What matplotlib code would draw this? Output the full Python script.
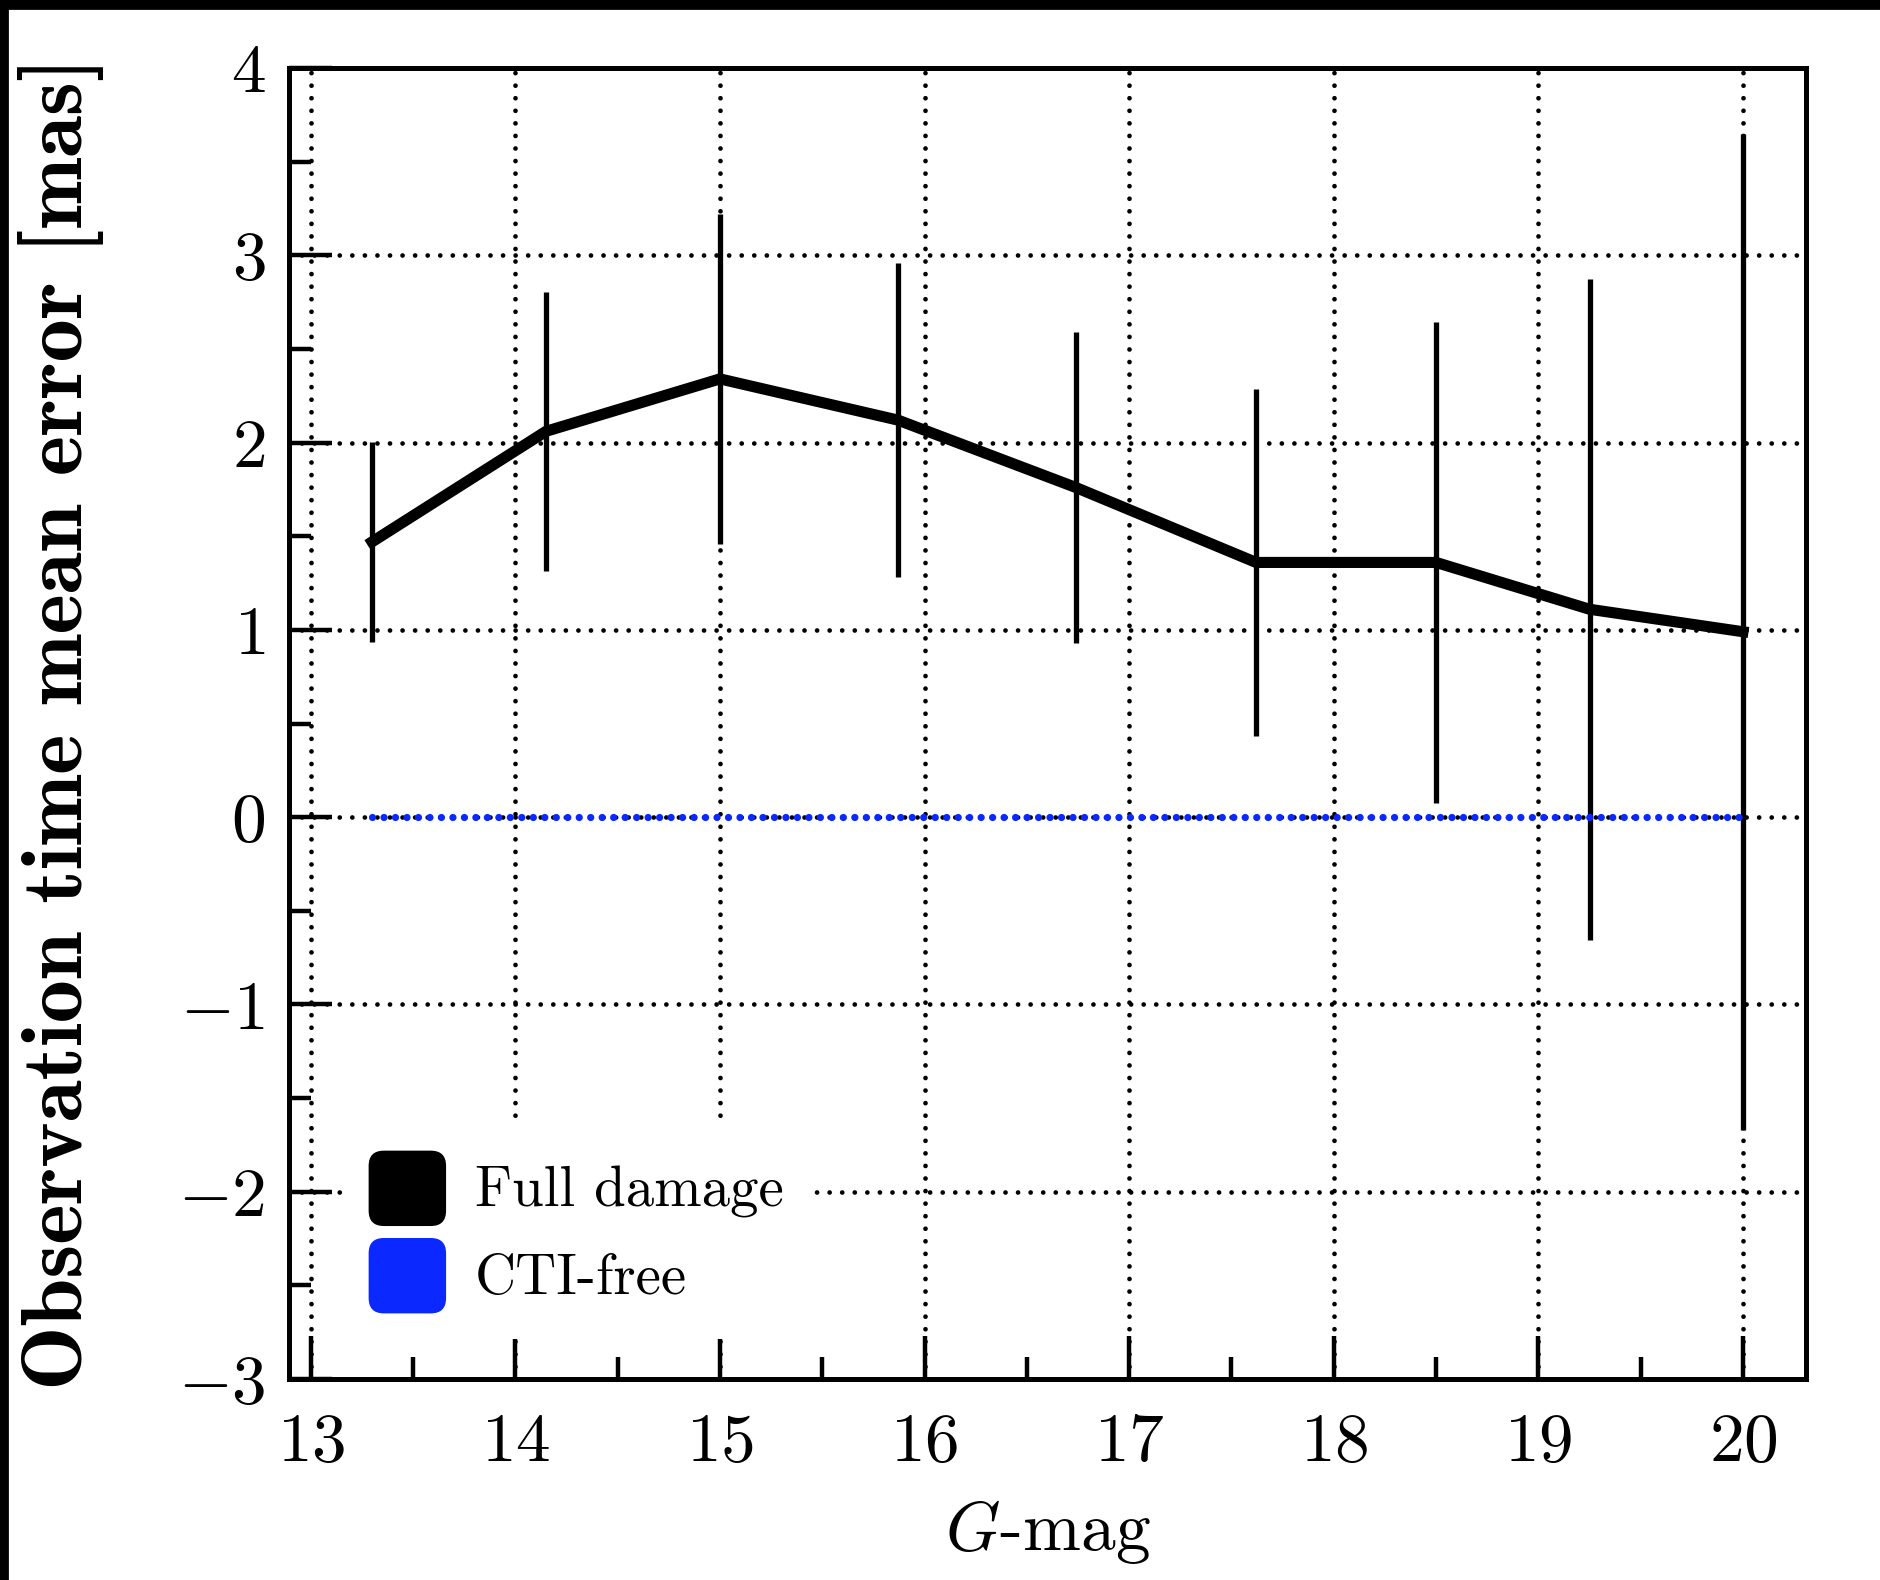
"""
Observation time mean error vs G-mag (Full damage vs CTI-free).
"""

import matplotlib.pyplot as plt
from matplotlib.patches import FancyBboxPatch, Patch, Rectangle
from matplotlib.legend_handler import HandlerPatch
from matplotlib.ticker import MultipleLocator

# --- Data ---
gmag = [13.30, 14.15, 15.00, 15.87, 16.74, 17.62, 18.50, 19.25, 20.00]
full_damage = [1.47, 2.06, 2.34, 2.12, 1.76, 1.36, 1.36, 1.11, 0.99]
full_err = [0.535, 0.745, 0.88, 0.84, 0.83, 0.925, 1.285, 1.765, 2.66]
cti_free = [0.0, 0.0, 0.0, 0.0, 0.0, 0.0, 0.0, 0.0, 0.0]

labels = ["Full damage", "CTI-free"]
colors = ["black", "#0a28ff"]

plt.rcParams.update({
    "font.family": "cmr10",
    "mathtext.fontset": "cm",
    "axes.formatter.use_mathtext": True,
    "axes.linewidth": 1.8,
})

fig = plt.figure(figsize=(9.4, 7.9), dpi=200)
ax = fig.add_axes([289 / 1880, 1 - 1379 / 1580, 1517 / 1880, 1311 / 1580])

ax.errorbar(gmag, full_damage, yerr=full_err, color=colors[0], lw=4.0,
            elinewidth=1.9, capsize=0, zorder=3)
ax.plot(gmag, cti_free, color=colors[1], lw=2.6,
        linestyle=(0, (0.01, 1.58)), dash_capstyle="round", zorder=4)

ax.set_xlim(12.894, 20.308)
ax.set_ylim(-3, 4)
ax.xaxis.set_major_locator(MultipleLocator(1))
ax.xaxis.set_minor_locator(MultipleLocator(0.5))
ax.yaxis.set_major_locator(MultipleLocator(1))
ax.yaxis.set_minor_locator(MultipleLocator(0.5))

ax.tick_params(which="both", direction="in", top=False, right=False, width=1.6)
ax.tick_params(which="major", length=15.5, labelsize=25)
ax.tick_params(axis="x", which="major", pad=12)
ax.tick_params(axis="y", which="major", pad=8.5)
ax.tick_params(which="minor", length=7.8)

ax.grid(True, which="major", color="black", lw=1.7,
        linestyle=(0, (0.01, 2.65)), dash_capstyle="round")
ax.set_axisbelow(True)

ax.set_xlabel(r"$G$-mag", fontsize=25)
ax.xaxis.set_label_coords(0.5, -0.091)
ax.set_ylabel("Observation time mean error [mas]", fontsize=31,
              family="cmb10")
ax.yaxis.set_label_coords(-0.122, 0.5)


# rounded square legend handles
def rounded_box(legend, orig_handle, xdescent, ydescent, width, height, fontsize):
    return FancyBboxPatch((-xdescent, -ydescent), width, height,
                          boxstyle="round,pad=0,rounding_size=5.5",
                          facecolor=orig_handle.get_facecolor(),
                          edgecolor="none")


handles = [Patch(facecolor=c) for c in colors]
leg = ax.legend(handles, labels, loc="lower left",
                bbox_to_anchor=(0.0356, 0.0305), borderaxespad=0,
                fontsize=20.5, handlelength=1.36, handleheight=1.66,
                handletextpad=0.5, labelspacing=0.21, borderpad=0.45,
                frameon=True, fancybox=False, framealpha=1,
                handler_map={Patch: HandlerPatch(patch_func=rounded_box)})
leg.get_frame().set_edgecolor("none")
leg.get_frame().set_facecolor("white")
leg.set_zorder(5)

# black strips at the top and left edge of the original scan
fig.patches.append(Rectangle((0, 1 - 7.5 / 1580), 1, 7.5 / 1580,
                             transform=fig.transFigure, color="black"))
fig.patches.append(Rectangle((0, 0), 7 / 1880, 1,
                             transform=fig.transFigure, color="black"))

fig.savefig("out.png", dpi=200)
